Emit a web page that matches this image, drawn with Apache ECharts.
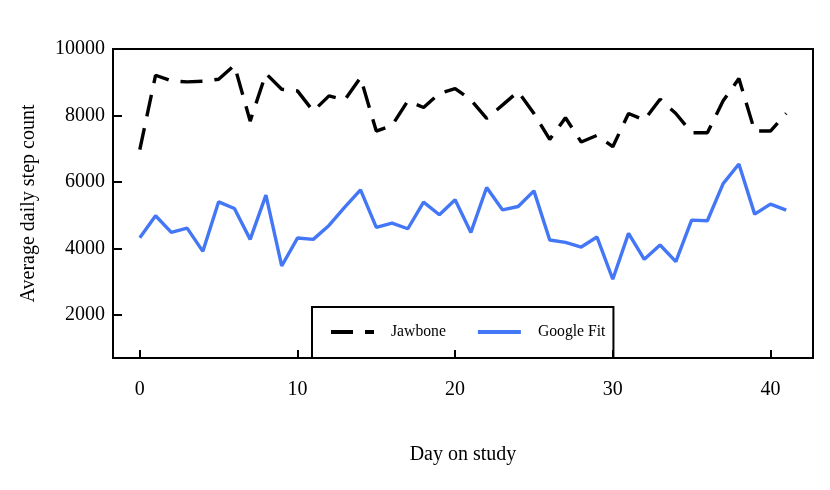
<!DOCTYPE html>
<html>
<head>
<meta charset="utf-8">
<script src="https://cdn.jsdelivr.net/npm/echarts@6/dist/echarts.min.js"></script>
<style>
  html, body { margin: 0; padding: 0; background: #fff; }
  #chart { width: 830px; height: 490px; }
</style>
</head>
<body>
<div id="chart"></div>
<script>
// days on study
let days = [];
for (let i = 0; i <= 41; i++) days.push(i);

// values
let jawbone = [6970, 9210, 9040, 9010, 9030, 9090, 9510, 7830, 9260, 8790,
  8740, 8130, 8590, 8470, 9140, 7530, 7700, 8440, 8240, 8660,
  8810, 8470, 7910, 8310, 8720, 8060, 7280, 7930, 7200, 7400,
  7060, 8060, 7860, 8490, 8060, 7480, 7480, 8440, 9110, 7530,
  7530, 8060];
let googleFit = [4320, 4980, 4480, 4610, 3910, 5400, 5200, 4270, 5600, 3470,
  4310, 4270, 4690, 5240, 5760, 4630, 4760, 4590, 5390, 5010,
  5460, 4480, 5830, 5160, 5260, 5730, 4250, 4180, 4040, 4340,
  3070, 4450, 3670, 4100, 3600, 4850, 4830, 5950, 6540, 5030,
  5330, 5150];

let yTicks = [2000, 4000, 6000, 8000, 10000];
let xTicks = [0, 10, 20, 30, 40];

function pairs(vals) {
  return vals.map((v, i) => [days[i], v]);
}

let font = 'Liberation Serif';
let chart = echarts.init(document.getElementById('chart'));

let option = {
  backgroundColor: '#fff',
  animation: false,
  textStyle: { fontFamily: font, color: '#000' },
  grid: {
    left: 113, right: 17, top: 49, bottom: 132,
    show: true, borderColor: '#000', borderWidth: 2
  },
  legend: {
    left: 312, top: 307,
    itemWidth: 43, itemHeight: 14, itemGap: 30,
    padding: [17, 8, 18, 17],
    borderColor: '#000', borderWidth: 2,
    itemStyle: { opacity: 0 },
    lineStyle: { width: 4 },
    textStyle: { fontFamily: font, fontSize: 15.7, color: '#000', padding: [0, 0, 0, 12] },
    data: ['Jawbone', 'Google Fit']
  },
  xAxis: {
    type: 'value',
    min: -1.7, max: 42.7,
    splitNumber: 5,
    name: 'Day on study',
    nameLocation: 'middle',
    nameGap: 87,
    nameTextStyle: { fontFamily: font, fontSize: 20, color: '#000' },
    axisLine: { onZero: false, lineStyle: { color: '#000', width: 2 } },
    axisTick: { inside: true, length: 8, lineStyle: { color: '#000', width: 2 } },
    axisLabel: {
      margin: 22, fontFamily: font, fontSize: 20, color: '#000',
      formatter: v => xTicks.includes(v) ? String(v) : ''
    },
    splitLine: { show: false }
  },
  yAxis: {
    type: 'value',
    min: 700, max: 10000,
    splitNumber: 5,
    name: 'Average daily step count',
    nameLocation: 'middle',
    nameGap: 74,
    nameRotate: 90,
    nameTextStyle: { fontFamily: font, fontSize: 20, color: '#000' },
    axisLine: { onZero: false, lineStyle: { color: '#000', width: 2 } },
    axisTick: { inside: true, length: 9, lineStyle: { color: '#000', width: 2 } },
    axisLabel: {
      margin: 8, fontFamily: font, fontSize: 20, color: '#000',
      formatter: v => yTicks.includes(v) ? String(v) : ''
    },
    splitLine: { show: false }
  },
  series: [
    {
      name: 'Jawbone',
      type: 'line',
      data: pairs(jawbone),
      symbol: 'none',
      color: '#000',
      lineStyle: { color: '#000', width: 3.4, type: [22, 12] }
    },
    {
      name: 'Google Fit',
      type: 'line',
      data: pairs(googleFit),
      symbol: 'none',
      color: '#4477f6',
      lineStyle: { color: '#4477f6', width: 3.4 }
    }
  ]
};

chart.setOption(option);
</script>
</body>
</html>
